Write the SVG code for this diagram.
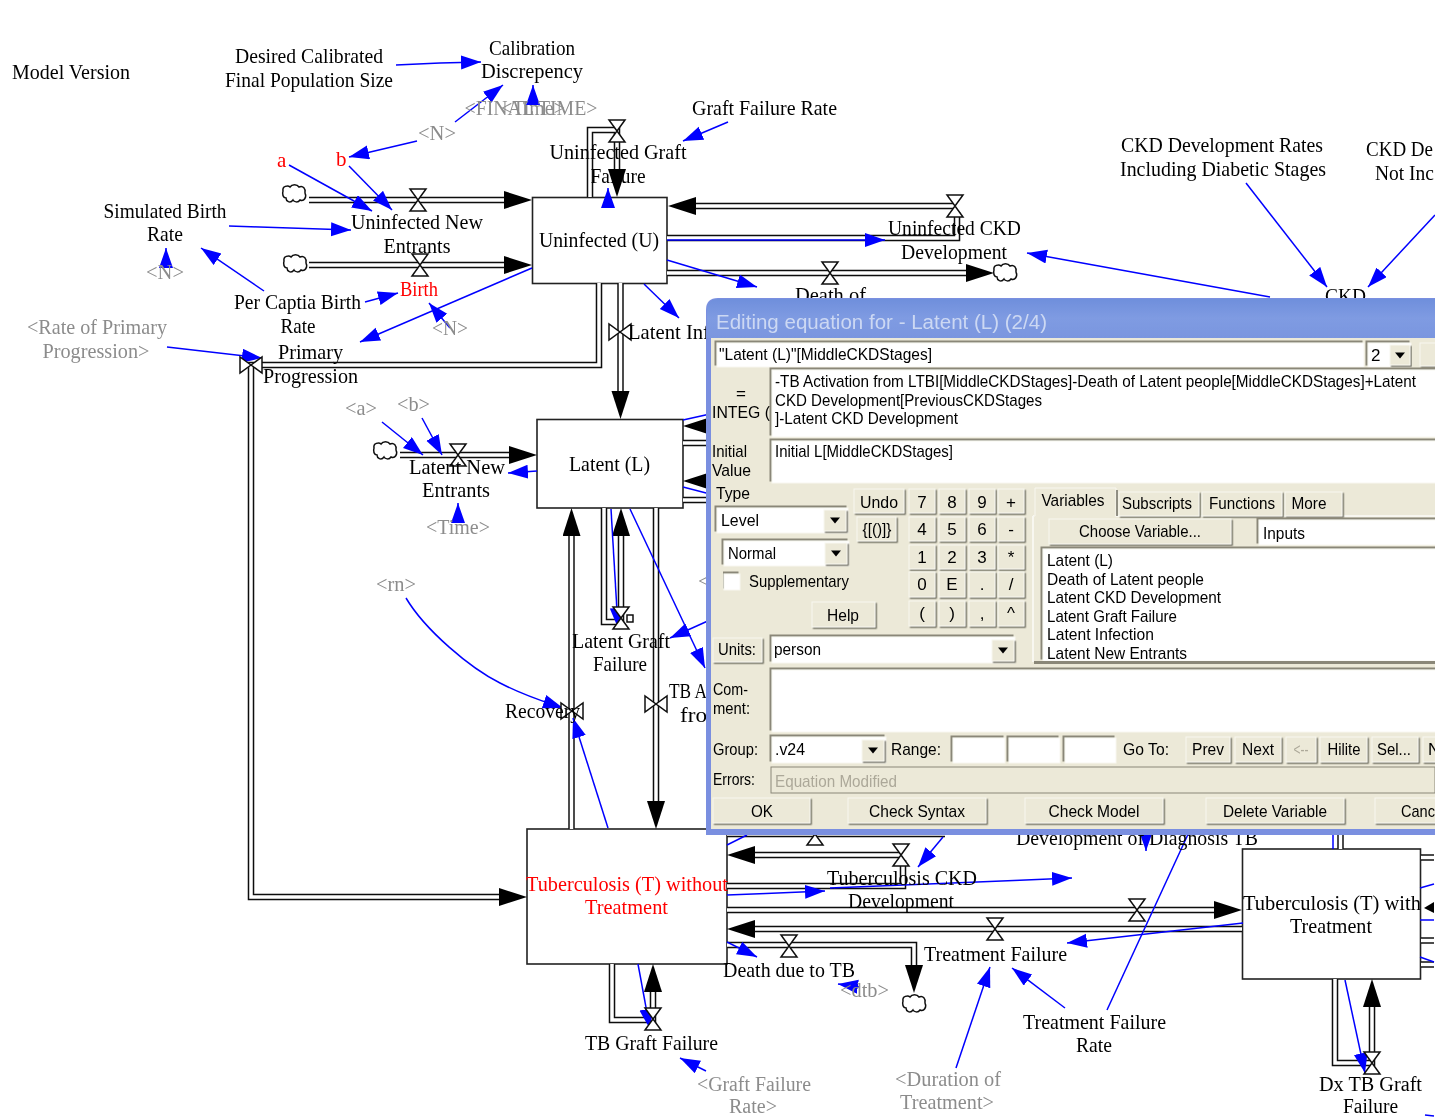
<svg xmlns="http://www.w3.org/2000/svg" width="1441" height="1117" viewBox="0 0 1441 1117">
<style>
text{font-family:"Liberation Serif","Times New Roman",serif;font-size:21px;fill:#000}
.m{text-anchor:middle}
.g{fill:#8c8c8c}
.r{fill:#f00}
.s20 text{font-size:20px}
.box{fill:#fff;stroke:#222;stroke-width:1.6}
.po{fill:none;stroke:#111;stroke-width:6.5}
.pi{fill:none;stroke:#fff;stroke-width:3.5}
.l{fill:none;stroke:#00f;stroke-width:1.5;marker-end:url(#ba)}
.n{fill:none;stroke:#00f;stroke-width:1.5}
.v{fill:#fff;stroke:#111;stroke-width:1.5}
.d{font-family:"Liberation Sans",Arial,sans-serif;font-size:17px}
.btn{fill:#ece9d8;stroke:#f8f7f0;stroke-width:1;filter:url(#up)}
.fld{fill:#fff;stroke:#f8f7f0;stroke-width:1;filter:url(#dn)}
</style>
<defs>
<marker id="ba" markerUnits="userSpaceOnUse" markerWidth="22" markerHeight="16" refX="20" refY="7" orient="auto"><path d="M0,0L20,7L0,14Z" fill="#00f"/></marker>
<marker id="bh" markerUnits="userSpaceOnUse" markerWidth="30" markerHeight="20" refX="2" refY="9" orient="auto"><path d="M0,0L28,9L0,18Z" fill="#000"/></marker>
<path id="valve" class="v" d="M-8,-11H8L-8,11H8Z"/>
<path id="bow" class="v" d="M-11,-8V8L11,-8V8Z"/>
<path id="cloud" class="v" d="M-11,-3C-12,-8-6,-9-4,-7C-2,-10 3,-10 5,-7C9,-9 12,-5 11,-1C13,3 10,8 6,6C4,9 0,8-1,6C-4,10-8,7-8,4C-11,4-12,0-11,-3Z"/>
<path id="drop" d="M-5,-2.500H5L0,3.500Z" fill="#000"/>
<filter id="up" x="-5%" y="-5%" width="115%" height="125%"><feDropShadow dx="1.4" dy="1.4" stdDeviation="0" flood-color="#716f64"/></filter>
<filter id="dn" x="-5%" y="-15%" width="110%" height="125%"><feDropShadow dx="-2" dy="-2" stdDeviation="0" flood-color="#8a8778"/></filter>
<filter id="soft" x="0" y="0" width="100%" height="100%"><feGaussianBlur stdDeviation="0.4"/></filter>
<linearGradient id="tb" x1="0" y1="0" x2="0" y2="1"><stop offset="0" stop-color="#6f8fdc"/><stop offset=".5" stop-color="#7f9be2"/><stop offset="1" stop-color="#7a96df"/></linearGradient>
</defs>
<rect width="1441" height="1117" fill="#fff"/>
<g filter="url(#soft)">
<g id="node-uninfected"><rect class="box" x="532.500" y="197.500" width="134.500" height="86"/><text class="m" x="599" y="247" textLength="120" lengthAdjust="spacingAndGlyphs">Uninfected (U)</text></g>
<g id="node-latent"><rect class="box" x="537" y="419.500" width="146" height="88.500"/><text class="m" x="609.500" y="471" textLength="81" lengthAdjust="spacingAndGlyphs">Latent (L)</text></g>
<g id="node-tb-without"><rect class="box" x="527" y="829" width="200" height="135"/><text class="m r" x="627" y="891" textLength="202" lengthAdjust="spacingAndGlyphs">Tuberculosis (T) without</text><text class="m r" x="626.500" y="914" textLength="83" lengthAdjust="spacingAndGlyphs">Treatment</text></g>
<g id="node-tb-with"><rect class="box" x="1242.500" y="849" width="178" height="130"/><text class="m" x="1332" y="910" textLength="178" lengthAdjust="spacingAndGlyphs">Tuberculosis (T) with</text><text class="m" x="1331" y="933" textLength="82" lengthAdjust="spacingAndGlyphs">Treatment</text></g>
<g id="connectors">
<path class="po" d="M309,200H506"/><path class="pi" d="M309,200H506" marker-end="url(#bh)"/>
<path class="po" d="M309,265H506"/><path class="pi" d="M309,265H506" marker-end="url(#bh)"/>
<path class="po" d="M590,197V130H617V171"/><path class="pi" d="M590,197V130H617V171" marker-end="url(#bh)"/>
<path class="po" d="M955,206H694"/><path class="pi" d="M955,206H694" marker-end="url(#bh)"/>
<path class="po" d="M667,238H957V212"/><path class="pi" d="M667,238H957V212"/>
<path class="po" d="M667,273H968"/><path class="pi" d="M667,273H968" marker-end="url(#bh)"/>
<path class="po" d="M599,283V365H251V897H501"/><path class="pi" d="M599,283V365H251V897H501" marker-end="url(#bh)"/>
<path class="po" d="M620.500,283V393"/><path class="pi" d="M620.500,283V393" marker-end="url(#bh)"/>
<path class="po" d="M400,455H511"/><path class="pi" d="M400,455H511" marker-end="url(#bh)"/>
<path class="po" d="M604,508V622H621V534"/><path class="pi" d="M604,508V622H621V534" marker-end="url(#bh)"/>
<path class="po" d="M571.500,829V534"/><path class="pi" d="M571.500,829V534" marker-end="url(#bh)"/>
<path class="po" d="M656,508V803"/><path class="pi" d="M656,508V803" marker-end="url(#bh)"/>
<path class="po" d="M720,426H709"/><path class="pi" d="M720,426H709" marker-end="url(#bh)"/>
<path class="po" d="M683,443H720"/><path class="pi" d="M683,443H720"/>
<path class="po" d="M720,481H709"/><path class="pi" d="M720,481H709" marker-end="url(#bh)"/>
<path class="po" d="M683,500H720"/><path class="pi" d="M683,500H720"/>
<path class="po" d="M727,834H945"/><path class="pi" d="M727,834H945"/>
<path class="po" d="M901,855H753"/><path class="pi" d="M901,855H753" marker-end="url(#bh)"/>
<path class="po" d="M727,886H903V860"/><path class="pi" d="M727,886H903V860"/>
<path class="po" d="M727,910H1216"/><path class="pi" d="M727,910H1216" marker-end="url(#bh)"/>
<path class="po" d="M1242,929H753"/><path class="pi" d="M1242,929H753" marker-end="url(#bh)"/>
<path class="po" d="M727,945H914V967"/><path class="pi" d="M727,945H914V967" marker-end="url(#bh)"/>
<path class="po" d="M612,964V1020H653V990"/><path class="pi" d="M612,964V1020H653V990" marker-end="url(#bh)"/>
<path class="po" d="M1335,979V1063H1372V1005"/><path class="pi" d="M1335,979V1063H1372V1005" marker-end="url(#bh)"/>
<path class="po" d="M1340.500,834V849"/><path class="pi" d="M1340.500,834V849"/>
<path class="po" d="M1421,857.500H1434"/><path class="pi" d="M1421,857.500H1434"/>
<path class="po" d="M1421,940.500H1434"/><path class="pi" d="M1421,940.500H1434"/>
<path class="po" d="M1421,964.500H1434"/><path class="pi" d="M1421,964.500H1434"/>
<path d="M1434,902L1424,908L1434,913Z" fill="#000"/>
<path class="l" d="M396,65L440,63L481,62"/>
<path class="l" d="M455,122L503,85"/>
<path class="l" d="M533,103V85"/>
<path class="l" d="M417,141L349,157"/>
<path class="l" d="M289,165L372,211"/>
<path class="l" d="M349,166L392,210"/>
<path class="l" d="M229,226L351,230"/>
<path class="l" d="M166,265V248"/>
<path class="l" d="M264,291L201,248"/>
<path class="l" d="M365,302L398,293"/>
<path class="l" d="M532,268L360,342"/>
<path class="l" d="M450,328L429,303"/>
<path class="l" d="M167,347L262,358"/>
<path class="l" d="M728,122L683,141"/>
<path class="l" d="M608,208V188"/>
<path class="l" d="M644,284L679,318"/>
<path class="l" d="M667,240H885"/>
<path class="l" d="M667,260L757,287"/>
<path class="l" d="M1246,183L1327,287"/>
<path class="l" d="M1435,215L1368,287"/>
<path class="l" d="M1270,297L1027,253"/>
<path class="l" d="M382,422L423,455"/>
<path class="l" d="M422,418L442,455"/>
<path class="l" d="M458,522V503"/>
<path class="l" d="M537,471L508,473"/>
<path class="l" d="M406,598C425,630 470,668 500,683C525,696 545,702 563,708"/>
<path class="l" d="M608,828L573,718"/>
<path class="l" d="M611,509L618,628"/>
<path class="l" d="M630,509L705,668"/>
<path class="l" d="M710,620L670,638"/>
<path class="n" d="M683,420L710,414"/>
<path class="n" d="M683,487L710,494"/>
<path class="n" d="M727,845L747,835"/>
<path class="l" d="M727,895L825,891"/>
<path class="l" d="M830,888L1072,878"/>
<path class="l" d="M943,837L918,867"/>
<path class="l" d="M1146,830V851"/>
<path class="l" d="M727,942L757,957"/>
<path class="l" d="M860,987L838,984"/>
<path class="l" d="M638,964L650,1029"/>
<path class="l" d="M706,1071L680,1058"/>
<path class="l" d="M956,1068L990,967"/>
<path class="l" d="M1065,1008L1012,968"/>
<path class="n" d="M1107,1010L1190,830"/>
<path class="l" d="M1243,923L1067,943"/>
<path class="l" d="M1345,980L1365,1073"/>
<path class="n" d="M1333,834V849"/>
<path class="n" d="M1420,888L1434,884"/>
<path class="n" d="M1420,920H1434"/>
<path class="n" d="M1420,957L1434,962"/>
<path class="n" d="M1425,1115L1434,1116" stroke-width="3"/>
<use href="#valve" x="418" y="200"/><use href="#valve" x="420" y="265"/><use href="#valve" x="617" y="131"/>
<use href="#valve" x="955" y="206"/><use href="#valve" x="830" y="273"/><use href="#bow" x="251" y="365"/>
<use href="#bow" x="620" y="332"/><use href="#valve" x="458" y="455"/><use href="#valve" x="621" y="618"/>
<rect class="v" x="627" y="615" width="6" height="7"/>
<use href="#bow" x="572" y="711"/><use href="#bow" x="656" y="704"/><use href="#valve" x="815" y="834"/>
<use href="#valve" x="901" y="855"/><use href="#valve" x="1137" y="910"/><use href="#valve" x="995" y="929"/>
<use href="#valve" x="789" y="946"/><use href="#valve" x="653" y="1019"/><use href="#valve" x="1372" y="1063"/>
<use href="#cloud" x="294" y="194"/><use href="#cloud" x="295" y="264"/><use href="#cloud" x="1005" y="273"/>
<use href="#cloud" x="385" y="451"/><use href="#cloud" x="914" y="1004"/>
</g>
<g id="node-model-version"><text x="12" y="79" textLength="118" lengthAdjust="spacingAndGlyphs">Model Version</text></g>
<g id="node-desired"><text class="m" x="309" y="63" textLength="148" lengthAdjust="spacingAndGlyphs">Desired Calibrated</text><text class="m" x="309" y="87" textLength="168" lengthAdjust="spacingAndGlyphs">Final Population Size</text></g>
<g id="node-calibration"><text class="m" x="532" y="55" textLength="86" lengthAdjust="spacingAndGlyphs">Calibration</text><text class="m" x="532" y="78" textLength="102" lengthAdjust="spacingAndGlyphs">Discrepency</text></g>
<g id="node-final-time"><text class="m g" x="531" y="115" textLength="133" lengthAdjust="spacingAndGlyphs">&lt;FINAL TIME&gt;</text></g>
<g id="node-time-1"><text class="m g" x="533" y="115" textLength="64" lengthAdjust="spacingAndGlyphs">&lt;Time&gt;</text></g>
<g id="node-n-1"><text class="m g" x="437" y="140" textLength="38" lengthAdjust="spacingAndGlyphs">&lt;N&gt;</text></g>
<g id="node-a"><text class="r" x="277" y="167">a</text></g>
<g id="node-b"><text class="r" x="336" y="166">b</text></g>
<g id="node-graft-failure-rate"><text x="692" y="115" textLength="145" lengthAdjust="spacingAndGlyphs">Graft Failure Rate</text></g>
<g id="node-uninfected-graft"><text class="m" x="618" y="159" textLength="137" lengthAdjust="spacingAndGlyphs">Uninfected Graft</text><text class="m" x="618" y="183" textLength="55" lengthAdjust="spacingAndGlyphs">Failure</text></g>
<g id="node-simulated"><text class="m" x="165" y="218" textLength="123" lengthAdjust="spacingAndGlyphs">Simulated Birth</text><text class="m" x="165" y="241" textLength="36" lengthAdjust="spacingAndGlyphs">Rate</text></g>
<g id="node-n-2"><text class="m g" x="165" y="279" textLength="38" lengthAdjust="spacingAndGlyphs">&lt;N&gt;</text></g>
<g id="node-uninfected-new"><text class="m" x="417" y="229" textLength="132" lengthAdjust="spacingAndGlyphs">Uninfected New</text><text class="m" x="417" y="253" textLength="67" lengthAdjust="spacingAndGlyphs">Entrants</text></g>
<g id="node-birth"><text class="m r" x="419" y="296" textLength="38" lengthAdjust="spacingAndGlyphs">Birth</text></g>
<g id="node-per-capita"><text class="m" x="297.500" y="309" textLength="127" lengthAdjust="spacingAndGlyphs">Per Captia Birth</text><text class="m" x="298" y="333" textLength="35" lengthAdjust="spacingAndGlyphs">Rate</text></g>
<g id="node-n-3"><text class="m g" x="450" y="335" textLength="36" lengthAdjust="spacingAndGlyphs">&lt;N&gt;</text></g>
<g id="node-rate-primary"><text class="m g" x="97" y="334" textLength="140" lengthAdjust="spacingAndGlyphs">&lt;Rate of Primary</text><text class="m g" x="96" y="358" textLength="107" lengthAdjust="spacingAndGlyphs">Progression&gt;</text></g>
<g id="node-primary"><text class="m" x="310.500" y="359" textLength="65" lengthAdjust="spacingAndGlyphs">Primary</text><text class="m" x="310.500" y="383" textLength="95" lengthAdjust="spacingAndGlyphs">Progression</text></g>
<g id="node-latent-infection"><text x="628" y="339" textLength="82" lengthAdjust="spacingAndGlyphs">Latent Inf</text></g>
<g id="node-death-uninfected"><text class="m" x="830.500" y="302" textLength="71" lengthAdjust="spacingAndGlyphs">Death of</text></g>
<g id="node-uninfected-ckd"><text class="m" x="954.500" y="235" textLength="133" lengthAdjust="spacingAndGlyphs">Uninfected CKD</text><text class="m" x="954" y="259" textLength="106" lengthAdjust="spacingAndGlyphs">Development</text></g>
<g id="node-ckd-rates"><text class="m" x="1222" y="152" textLength="202" lengthAdjust="spacingAndGlyphs">CKD Development Rates</text><text class="m" x="1223" y="176" textLength="206" lengthAdjust="spacingAndGlyphs">Including Diabetic Stages</text></g>
<g id="node-ckd-rates-2"><text x="1366" y="156" textLength="67" lengthAdjust="spacingAndGlyphs">CKD De</text><text x="1375" y="180" textLength="59" lengthAdjust="spacingAndGlyphs">Not Inc</text></g>
<g id="node-ckd"><text class="m" x="1345.500" y="303" textLength="41" lengthAdjust="spacingAndGlyphs">CKD</text></g>
<g id="node-a-2"><text class="m g" x="361" y="415" textLength="32" lengthAdjust="spacingAndGlyphs">&lt;a&gt;</text></g>
<g id="node-b-2"><text class="m g" x="413.500" y="411" textLength="33" lengthAdjust="spacingAndGlyphs">&lt;b&gt;</text></g>
<g id="node-latent-new"><text class="m" x="457" y="474" textLength="96" lengthAdjust="spacingAndGlyphs">Latent New</text><text class="m" x="456" y="497" textLength="68" lengthAdjust="spacingAndGlyphs">Entrants</text></g>
<g id="node-time-2"><text class="m g" x="458" y="534" textLength="64" lengthAdjust="spacingAndGlyphs">&lt;Time&gt;</text></g>
<g id="node-rn"><text class="m g" x="396" y="591" textLength="40" lengthAdjust="spacingAndGlyphs">&lt;rn&gt;</text></g>
<g id="node-lt-mark"><text x="698" y="588" class="g">&lt;</text></g>
<g id="node-latent-graft"><text class="m" x="621" y="648" textLength="98" lengthAdjust="spacingAndGlyphs">Latent Graft</text><text class="m" x="620" y="671" textLength="54" lengthAdjust="spacingAndGlyphs">Failure</text></g>
<g id="node-recovery"><text x="505" y="718" textLength="75" lengthAdjust="spacingAndGlyphs">Recovery</text></g>
<g id="node-tb-activation"><text x="669" y="698" textLength="38" lengthAdjust="spacingAndGlyphs">TB A</text><text x="680" y="722" textLength="27" lengthAdjust="spacingAndGlyphs">fro</text></g>
<g id="node-tb-ckd"><text class="m" x="902" y="885" textLength="150" lengthAdjust="spacingAndGlyphs">Tuberculosis CKD</text><text class="m" x="901" y="908" textLength="106" lengthAdjust="spacingAndGlyphs">Development</text></g>
<g id="node-dev-dx"><text class="m" x="1137" y="845" textLength="242" lengthAdjust="spacingAndGlyphs">Development of Diagnosis TB</text></g>
<g id="node-death-tb"><text class="m" x="789" y="977" textLength="132" lengthAdjust="spacingAndGlyphs">Death due to TB</text></g>
<g id="node-treatment-failure"><text class="m" x="995.500" y="961" textLength="143" lengthAdjust="spacingAndGlyphs">Treatment Failure</text></g>
<g id="node-dtb"><text class="m g" x="864.500" y="997" textLength="49" lengthAdjust="spacingAndGlyphs">&lt;dtb&gt;</text></g>
<g id="node-tb-graft"><text class="m" x="651.500" y="1050" textLength="133" lengthAdjust="spacingAndGlyphs">TB Graft Failure</text></g>
<g id="node-graft-rate-2" class="s20"><text class="m g" x="754" y="1091" textLength="114" lengthAdjust="spacingAndGlyphs">&lt;Graft Failure</text><text class="m g" x="753" y="1113" textLength="48" lengthAdjust="spacingAndGlyphs">Rate&gt;</text></g>
<g id="node-duration"><text class="m g" x="948" y="1086" textLength="106" lengthAdjust="spacingAndGlyphs">&lt;Duration of</text><text class="m g" x="947" y="1109" textLength="94" lengthAdjust="spacingAndGlyphs">Treatment&gt;</text></g>
<g id="node-tf-rate"><text class="m" x="1094.500" y="1029" textLength="143" lengthAdjust="spacingAndGlyphs">Treatment Failure</text><text class="m" x="1094" y="1052" textLength="36" lengthAdjust="spacingAndGlyphs">Rate</text></g>
<g id="node-dx-graft" class="s20"><text class="m" x="1370.500" y="1091" textLength="103" lengthAdjust="spacingAndGlyphs">Dx TB Graft</text><text class="m" x="1370.500" y="1113" textLength="55" lengthAdjust="spacingAndGlyphs">Failure</text></g>
<g id="dialog">
<path d="M706,835V310Q706,298 718,298H1435V835Z" fill="#7a8fe0"/>
<path d="M707,338V311Q707,299 718,299H1435V338Z" fill="url(#tb)"/>
<rect x="711" y="338" width="724" height="491" fill="#ece9d8"/>
<text class="d" x="716" y="329" style="font-size:20px;fill:#ccd8f3" textLength="331" lengthAdjust="spacingAndGlyphs">Editing equation for - Latent (L) (2/4)</text>
<rect class="fld" x="717" y="343" width="647" height="24"/>
<text class="d" x="719" y="360" textLength="213" lengthAdjust="spacingAndGlyphs">"Latent (L)"[MiddleCKDStages]</text>
<rect class="fld" x="1368" y="343" width="43" height="24"/><text class="d" x="1371" y="361">2</text>
<rect class="btn" x="1390" y="345" width="20" height="20"/><use href="#drop" x="1400" y="355"/>
<rect class="btn" x="1420" y="343" width="20" height="23"/>
<text class="d m" x="741" y="399">=</text>
<text class="d" x="712" y="418" textLength="58" lengthAdjust="spacingAndGlyphs">INTEG (</text>
<rect class="fld" x="772" y="370" width="670" height="67"/>
<text class="d" x="775" y="387" textLength="641" lengthAdjust="spacingAndGlyphs">-TB Activation from LTBI[MiddleCKDStages]-Death of Latent people[MiddleCKDStages]+Latent</text>
<text class="d" x="775" y="406" textLength="267" lengthAdjust="spacingAndGlyphs">CKD Development[PreviousCKDStages</text>
<text class="d" x="775" y="424" textLength="183" lengthAdjust="spacingAndGlyphs">]-Latent CKD Development</text>
<rect class="fld" x="772" y="441" width="670" height="42"/>
<text class="d" x="775" y="457" textLength="178" lengthAdjust="spacingAndGlyphs">Initial L[MiddleCKDStages]</text>
<text class="d" x="712" y="457" textLength="35" lengthAdjust="spacingAndGlyphs">Initial</text>
<text class="d" x="712" y="476" textLength="39" lengthAdjust="spacingAndGlyphs">Value</text>
<text class="d" x="716" y="499" textLength="34" lengthAdjust="spacingAndGlyphs">Type</text>
<rect class="fld" x="717" y="508" width="131" height="25"/><text class="d" x="721" y="526" textLength="38" lengthAdjust="spacingAndGlyphs">Level</text>
<rect class="btn" x="824" y="510" width="22" height="21"/><use href="#drop" x="835" y="520"/>
<rect class="fld" x="724" y="541" width="125" height="25"/><text class="d" x="728" y="559" textLength="48" lengthAdjust="spacingAndGlyphs">Normal</text>
<rect class="btn" x="825" y="543" width="22" height="21"/><use href="#drop" x="836" y="553"/>
<rect class="fld" x="724" y="574" width="16" height="16"/>
<text class="d" x="749" y="587" textLength="100" lengthAdjust="spacingAndGlyphs">Supplementary</text>
<rect class="btn" x="812" y="602" width="63" height="25"/><text class="d m" x="843" y="621" textLength="32" lengthAdjust="spacingAndGlyphs">Help</text>
<rect class="btn" x="854" y="489" width="50" height="24"/><text class="d m" x="879" y="508" textLength="38" lengthAdjust="spacingAndGlyphs">Undo</text>
<rect class="btn" x="857" y="517" width="39" height="24"/><text class="d m" x="877" y="535" textLength="29" lengthAdjust="spacingAndGlyphs">{[()]}</text>
<rect class="btn" x="909" y="489" width="26" height="24"/><text class="d m" x="922" y="508">7</text>
<rect class="btn" x="939" y="489" width="26" height="24"/><text class="d m" x="952" y="508">8</text>
<rect class="btn" x="969" y="489" width="26" height="24"/><text class="d m" x="982" y="508">9</text>
<rect class="btn" x="998" y="489" width="26" height="24"/><text class="d m" x="1011" y="508">+</text>
<rect class="btn" x="909" y="517" width="26" height="24"/><text class="d m" x="922" y="535">4</text>
<rect class="btn" x="939" y="517" width="26" height="24"/><text class="d m" x="952" y="535">5</text>
<rect class="btn" x="969" y="517" width="26" height="24"/><text class="d m" x="982" y="535">6</text>
<rect class="btn" x="998" y="517" width="26" height="24"/><text class="d m" x="1011" y="535">-</text>
<rect class="btn" x="909" y="545" width="26" height="24"/><text class="d m" x="922" y="563">1</text>
<rect class="btn" x="939" y="545" width="26" height="24"/><text class="d m" x="952" y="563">2</text>
<rect class="btn" x="969" y="545" width="26" height="24"/><text class="d m" x="982" y="563">3</text>
<rect class="btn" x="998" y="545" width="26" height="24"/><text class="d m" x="1011" y="563">*</text>
<rect class="btn" x="909" y="572" width="26" height="25"/><text class="d m" x="922" y="590">0</text>
<rect class="btn" x="939" y="572" width="26" height="25"/><text class="d m" x="952" y="590">E</text>
<rect class="btn" x="969" y="572" width="26" height="25"/><text class="d m" x="982" y="590">.</text>
<rect class="btn" x="998" y="572" width="26" height="25"/><text class="d m" x="1011" y="590">/</text>
<rect class="btn" x="909" y="601" width="26" height="25"/><text class="d m" x="922" y="619">(</text>
<rect class="btn" x="939" y="601" width="26" height="25"/><text class="d m" x="952" y="619">)</text>
<rect class="btn" x="969" y="601" width="26" height="25"/><text class="d m" x="982" y="619">,</text>
<rect class="btn" x="998" y="601" width="26" height="25"/><text class="d m" x="1011" y="619">^</text>
<path d="M1033,516H1435M1033,516V662" fill="none" stroke="#f8f7f0" stroke-width="2"/>
<rect class="btn" x="1119" y="492" width="80" height="24"/><text class="d m" x="1157" y="509" textLength="70" lengthAdjust="spacingAndGlyphs">Subscripts</text>
<rect class="btn" x="1202" y="492" width="80" height="24"/><text class="d m" x="1242" y="509" textLength="66" lengthAdjust="spacingAndGlyphs">Functions</text>
<rect class="btn" x="1285" y="492" width="57" height="24"/><text class="d m" x="1309" y="509" textLength="35" lengthAdjust="spacingAndGlyphs">More</text>
<rect class="btn" x="1035" y="488" width="80" height="29" style="filter:none;stroke:#ece9d8"/><path d="M1035,516V488H1116V516" fill="none" stroke="#f8f7f0"/><path d="M1117,490V516" fill="none" stroke="#716f64" stroke-width="1.500"/><text class="d m" x="1073" y="506" textLength="63" lengthAdjust="spacingAndGlyphs">Variables</text>
<rect class="btn" x="1049" y="519" width="182" height="25"/><text class="d m" x="1140" y="537" textLength="122" lengthAdjust="spacingAndGlyphs">Choose Variable...</text>
<rect class="fld" x="1259" y="520" width="180" height="25"/><text class="d" x="1263" y="539" textLength="42" lengthAdjust="spacingAndGlyphs">Inputs</text>
<rect class="fld" x="1043" y="549" width="396" height="112"/>
<text class="d" x="1047" y="566" textLength="66" lengthAdjust="spacingAndGlyphs">Latent (L)</text>
<text class="d" x="1047" y="585" textLength="157" lengthAdjust="spacingAndGlyphs">Death of Latent people</text>
<text class="d" x="1047" y="603" textLength="174" lengthAdjust="spacingAndGlyphs">Latent CKD Development</text>
<text class="d" x="1047" y="622" textLength="130" lengthAdjust="spacingAndGlyphs">Latent Graft Failure</text>
<text class="d" x="1047" y="640" textLength="107" lengthAdjust="spacingAndGlyphs">Latent Infection</text>
<text class="d" x="1047" y="659" textLength="140" lengthAdjust="spacingAndGlyphs">Latent New Entrants</text>
<rect x="1034" y="661" width="401" height="3" fill="#8a8778"/>
<rect class="btn" x="713" y="638" width="49" height="24"/><text class="d" x="718" y="655" textLength="38" lengthAdjust="spacingAndGlyphs">Units:</text>
<rect class="fld" x="772" y="637" width="243" height="26"/><text class="d" x="774" y="655" textLength="47" lengthAdjust="spacingAndGlyphs">person</text>
<rect class="btn" x="992" y="640" width="22" height="21"/><use href="#drop" x="1003" y="650"/>
<text class="d" x="713" y="695" textLength="35" lengthAdjust="spacingAndGlyphs">Com-</text>
<text class="d" x="713" y="714" textLength="37" lengthAdjust="spacingAndGlyphs">ment:</text>
<rect class="fld" x="772" y="670" width="670" height="62"/>
<text class="d" x="713" y="755" textLength="45" lengthAdjust="spacingAndGlyphs">Group:</text>
<rect class="fld" x="772" y="737" width="114" height="26"/><text class="d" x="775" y="755" textLength="30" lengthAdjust="spacingAndGlyphs">.v24</text>
<rect class="btn" x="862" y="740" width="22" height="21"/><use href="#drop" x="873" y="750"/>
<text class="d" x="891" y="755" textLength="50" lengthAdjust="spacingAndGlyphs">Range:</text>
<rect class="fld" x="953" y="738" width="52" height="25"/><rect class="fld" x="1009" y="738" width="51" height="25"/><rect class="fld" x="1065" y="738" width="51" height="25"/>
<text class="d" x="1123" y="755" textLength="46" lengthAdjust="spacingAndGlyphs">Go To:</text>
<rect class="btn" x="1186" y="737" width="44" height="25"/><text class="d m" x="1208" y="755" textLength="32" lengthAdjust="spacingAndGlyphs">Prev</text>
<rect class="btn" x="1235" y="737" width="46" height="25"/><text class="d m" x="1258" y="755" textLength="32" lengthAdjust="spacingAndGlyphs">Next</text>
<rect class="btn" x="1286" y="737" width="30" height="25"/><text class="d m" x="1301" y="755" style="fill:#aca899" textLength="15" lengthAdjust="spacingAndGlyphs">&lt;--</text>
<rect class="btn" x="1320" y="737" width="47" height="25"/><text class="d m" x="1344" y="755" textLength="33" lengthAdjust="spacingAndGlyphs">Hilite</text>
<rect class="btn" x="1372" y="737" width="46" height="25"/><text class="d m" x="1394" y="755" textLength="34" lengthAdjust="spacingAndGlyphs">Sel...</text>
<rect class="btn" x="1423" y="737" width="20" height="25"/><text class="d" x="1428" y="755">N</text>
<text class="d" x="713" y="785" textLength="42" lengthAdjust="spacingAndGlyphs">Errors:</text>
<rect x="771" y="767" width="664" height="26" fill="#ece9d8" stroke="#8a8778" stroke-width="1"/>
<text class="d" x="775" y="787" style="fill:#aca899" textLength="122" lengthAdjust="spacingAndGlyphs">Equation Modified</text>
<rect class="btn" x="713" y="798" width="97" height="25"/><text class="d m" x="762" y="817" textLength="22" lengthAdjust="spacingAndGlyphs">OK</text>
<rect class="btn" x="848" y="798" width="138" height="25"/><text class="d m" x="917" y="817" textLength="96" lengthAdjust="spacingAndGlyphs">Check Syntax</text>
<rect class="btn" x="1025" y="798" width="138" height="25"/><text class="d m" x="1094" y="817" textLength="91" lengthAdjust="spacingAndGlyphs">Check Model</text>
<rect class="btn" x="1206" y="798" width="138" height="25"/><text class="d m" x="1275" y="817" textLength="104" lengthAdjust="spacingAndGlyphs">Delete Variable</text>
<rect class="btn" x="1375" y="798" width="70" height="25"/><text class="d" x="1401" y="817" textLength="34" lengthAdjust="spacingAndGlyphs">Canc</text>
</g>
</g>
<rect x="1435" y="0" width="6" height="1117" fill="#fff"/>
</svg>
